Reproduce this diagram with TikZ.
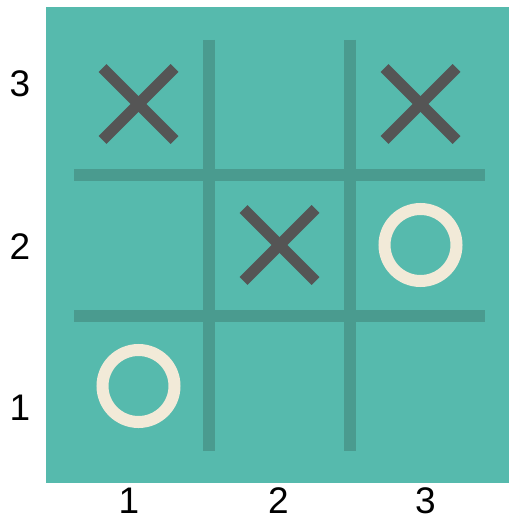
\documentclass[tikz,border=0pt]{standalone}
\usepackage{fontspec}
\setmainfont{Liberation Sans}
\definecolor{boardbg}{HTML}{56BAAD}
\definecolor{gridc}{HTML}{4A9B8F}
\definecolor{xcol}{HTML}{555555}
\definecolor{ocol}{HTML}{F2EAD8}
\begin{document}
\begin{tikzpicture}[x=1pt,y=-1pt,
  gridline/.style={draw=gridc,line width=12pt,line cap=butt},
  xmark/.style={draw=xcol,line width=11pt,line cap=butt},
  omark/.style={draw=ocol,line width=12pt},
  axlabel/.style={inner sep=0pt,font=\fontsize{37}{40}\selectfont,text=black}]
\useasboundingbox (0,0) rectangle (509,519);
\fill[boardbg] (46,7.5) rectangle (509,483);
% grid
\draw[gridline] (209,40) -- (209,451);
\draw[gridline] (350,40) -- (350,451);
\draw[gridline] (74,174.5) -- (485,174.5);
\draw[gridline] (74,316) -- (485,316);
% cell centres
\coordinate (c13) at (138.5,104);
\coordinate (c33) at (420.5,104);
\coordinate (c22) at (279.5,245);
\coordinate (c32) at (420.5,245);
\coordinate (c11) at (138.5,386);
% X marks
\foreach \c in {c13,c33,c22}{
  \draw[xmark] ([shift={(-36,-36)}]\c) -- ([shift={(36,36)}]\c);
  \draw[xmark] ([shift={(-36,36)}]\c) -- ([shift={(36,-36)}]\c);
}
% O marks
\draw[omark] (c32) circle[radius=36];
\draw[omark] (c11) circle[radius=36];
% axis labels
\node[axlabel] (ly3) at (20,84) {3};
\node[axlabel] (ly2) at (20,247) {2};
\node[axlabel] (ly1) at (20,408) {1};
\node[axlabel] (lx1) at (129,500.5) {1};
\node[axlabel] (lx2) at (278.5,500.5) {2};
\node[axlabel] (lx3) at (425.5,500.5) {3};
\end{tikzpicture}
\end{document}
